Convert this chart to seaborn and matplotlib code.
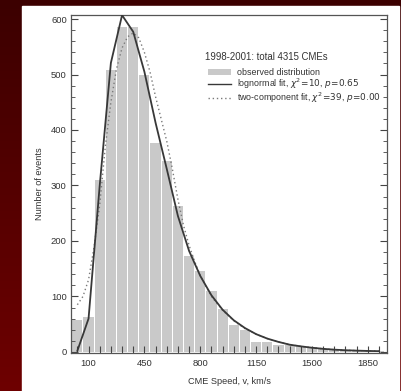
import numpy as np
import pandas as pd
import matplotlib
matplotlib.use("Agg")
import matplotlib.pyplot as plt
from matplotlib.colors import LinearSegmentedColormap
from matplotlib.patches import Rectangle, Patch
from matplotlib.lines import Line2D
import seaborn as sns

# Observed distribution: bin centres (km/s) and counts
bin_centers = [30, 100, 170, 240, 310, 380, 450, 520, 590, 660, 730, 800, 870, 940,
               1010, 1080, 1150, 1220, 1290, 1360, 1430, 1500, 1570, 1640, 1710,
               1780, 1850, 1920]
counts = [58, 63, 310, 509, 586, 586, 500, 376, 345, 263, 173, 146, 110, 78,
          48, 40, 18, 18, 12, 12, 10, 8, 6, 5, 4, 3, 2, 2]

# Lognormal fit, evaluated at the bin centres
lognorm_x = bin_centers
lognorm_y = [2, 60, 300, 521, 607, 577, 505, 413, 330, 245, 182, 137, 102, 76,
             57, 43, 32, 24, 18, 13, 10, 7.5, 5.5, 4, 3, 2.3, 1.7, 1.3]

# Two-component fit
twocomp_x = [30, 65, 100, 135, 170, 205, 240, 275, 310, 345, 380, 415, 450, 485,
             520, 555, 590, 625, 660, 695, 730, 765, 800, 835, 870, 940, 1010,
             1080, 1150, 1220, 1290, 1360, 1430, 1500, 1570, 1640, 1710, 1780,
             1850, 1920]
twocomp_y = [85, 100, 130, 190, 265, 370, 450, 510, 548, 568, 575, 566, 540, 505,
             460, 420, 380, 330, 275, 228, 192, 163, 138, 118, 100, 75, 56, 42,
             32, 24, 18, 13, 10, 7.5, 5.5, 4, 3, 2.3, 1.7, 1.3]

x_tick_labels = [100, 450, 800, 1150, 1500, 1850]
y_tick_labels = [0, 100, 200, 300, 400, 500, 600]

BAR = "#c9c9c9"
LINE = "#383838"
DOT = "#7a7a7a"
TXT = "#333333"


def draw_background(fig):
    bg = fig.add_axes([0, 0, 1, 1], zorder=-10)
    cmap = LinearSegmentedColormap.from_list("red", ["#3c0000", "#6e0000"])
    grad = np.linspace(0, 1, 256).reshape(-1, 1)
    bg.imshow(grad, aspect="auto", cmap=cmap, extent=[0, 1, 0, 1], origin="upper")
    bg.add_patch(Rectangle((22 / 402, 0), (399 - 22) / 402, (391 - 6) / 391,
                           transform=bg.transAxes, color="white", zorder=2))
    bg.set_xlim(0, 1)
    bg.set_ylim(0, 1)
    bg.axis("off")


def plot_distribution():
    plt.rcParams["font.family"] = ["Liberation Sans", "DejaVu Sans"]
    fig = plt.figure(figsize=(4.02, 3.91), dpi=100)
    draw_background(fig)

    ax = fig.add_axes([0.1766, 0.0972, 0.786, 0.864])
    ax.set_facecolor("white")

    df = pd.DataFrame({"speed": bin_centers, "n": counts})
    sns.histplot(data=df, x="speed", weights="n", binwidth=70,
                 binrange=(bin_centers[0] - 35, bin_centers[-1] + 35), shrink=0.91,
                 color=BAR, edgecolor="none", alpha=1, ax=ax, zorder=1)

    sns.lineplot(x=lognorm_x, y=lognorm_y, color=LINE, lw=1.3, ax=ax, zorder=3)
    sns.lineplot(x=twocomp_x, y=twocomp_y, color=DOT, lw=1.0, ax=ax, zorder=2)
    ax.lines[-1].set_linestyle((0, (1, 2)))

    ax.set_xlim(-10, 1970)
    ax.set_ylim(-2, 607)
    ax.set_xticks(x_tick_labels)
    ax.set_xticks(bin_centers, minor=True)
    ax.set_yticks(y_tick_labels)
    ax.set_yticks(np.arange(0, 607, 20), minor=True)
    ax.tick_params(axis="both", which="both", direction="in", colors="#444444",
                   labelcolor=TXT, labelsize=6.8)
    ax.tick_params(axis="x", which="both", length=5, width=0.8, pad=4)
    ax.tick_params(axis="y", which="major", length=5, width=0.8, right=True, pad=3)
    ax.tick_params(axis="y", which="minor", length=3, width=0.6, right=True)
    for s in ax.spines.values():
        s.set_color("#555555")
        s.set_linewidth(0.9)

    ax.set_xlabel("CME Speed, v, km/s", fontsize=6.6, color=TXT)
    ax.set_ylabel("Number of events", fontsize=6.6, color=TXT)
    ax.xaxis.set_label_coords(0.5, -0.072)
    ax.yaxis.set_label_coords(-0.085, 0.5)

    ax.text(0.425, 0.876, "1998-2001: total 4315 CMEs", transform=ax.transAxes,
            fontsize=6.9, color=TXT, va="center")
    handles = [
        Patch(facecolor=BAR, edgecolor="none"),
        Line2D([], [], color=LINE, lw=1.0),
        Line2D([], [], color=DOT, lw=1.0, ls=(0, (1, 2))),
    ]
    labels = [
        "observed distribution",
        r"lognormal fit, $\chi^2\!=\!10$, $p\!=\!0.65$",
        r"two-component fit, $\chi^2\!=\!39$, $p\!=\!0.00$",
    ]
    leg = ax.legend(handles, labels, loc="upper left", bbox_to_anchor=(0.435, 0.843),
                    frameon=False, fontsize=6.4, handlelength=2.5, handletextpad=0.7,
                    labelspacing=-0.05, borderaxespad=0, borderpad=0)
    for t in leg.get_texts():
        t.set_color(TXT)

    fig.savefig("out.png", dpi=100)


if __name__ == "__main__":
    plot_distribution()
